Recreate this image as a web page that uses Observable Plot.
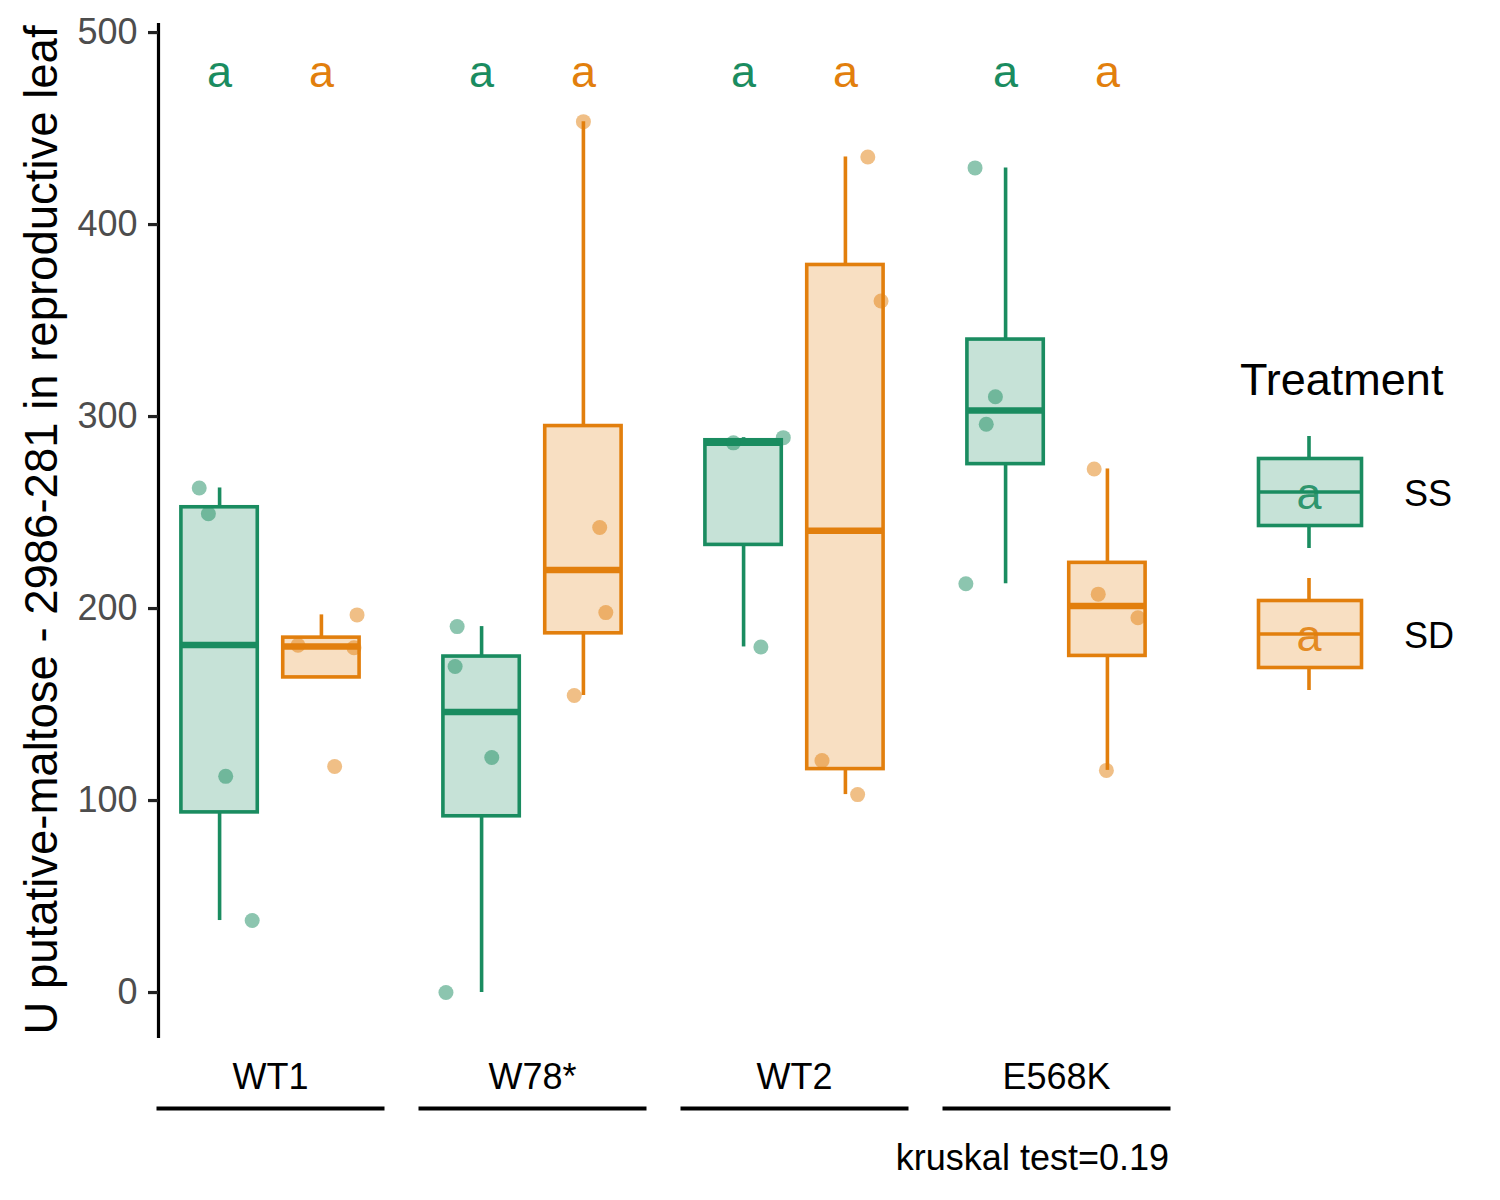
<!DOCTYPE html>
<html><head><meta charset="utf-8">
<script src="https://cdn.jsdelivr.net/npm/d3@7"></script>
<script src="https://cdn.jsdelivr.net/npm/@observablehq/plot@0.6"></script>
<style>body{margin:0;background:#fff;}</style>
</head><body><div id="chart"></div>
<script>
// ---- data ----
const groups = ["WT1", "W78*", "WT2", "E568K"];
const treatments = ["SS", "SD"];
const ssValues = [
  [262.8, 249.4, 112.6, 37.5],
  [190.6, 169.8, 122.4, 0.0],
  [286.3, 289.0, 180.0],
  [429.5, 310.3, 296.0, 212.9]
];
const sdValues = [
  [196.7, 117.7, 180.9, 179.6],
  [453.6, 242.2, 197.9, 154.7],
  [435.2, 360.2, 120.8, 103.1],
  [272.7, 207.5, 195.2, 115.7]
];
// horizontal jitter of each point (fraction of a category step)
const ssJitter = [
  [-0.20, -0.11, 0.06, 0.32],
  [-0.24, -0.26, 0.10, -0.35],
  [-0.10, 0.39, 0.17],
  [-0.30, -0.10, -0.19, -0.39]
];
const sdJitter = [
  [0.35, 0.13, -0.23, 0.32],
  [0.00, 0.16, 0.22, -0.09],
  [0.22, 0.35, -0.23, 0.12],
  [-0.13, -0.09, 0.30, -0.01]
];
const ssLetters = ["a", "a", "a", "a"];
const sdLetters = ["a", "a", "a", "a"];
const letterLevel = 479;
const yTicks = [0, 100, 200, 300, 400, 500];
const yTitle = "U putative-maltose - 2986-281 in reproductive leaf";
const legendTitle = "Treatment";
const caption = "kruskal test=0.19";

const colors = {SS: "#1a8c60", SD: "#e27f0d"};
const font = "'Liberation Sans', Arial, Helvetica, sans-serif";

// ---- build tables ----
const points = [], stats = [], letters = [];
groups.forEach((g, gi) => {
  treatments.forEach((t, ti) => {
    const vals = (t === "SS" ? ssValues : sdValues)[gi];
    const jit = (t === "SS" ? ssJitter : sdJitter)[gi];
    const pos = ti + 1;
    vals.forEach((v, i) => points.push({group: g, treatment: t, pos, value: v, jitter: jit[i]}));
    const s = vals.slice().sort(d3.ascending);
    const q1 = d3.quantileSorted(s, 0.25), med = d3.quantileSorted(s, 0.5), q3 = d3.quantileSorted(s, 0.75);
    const iqr = q3 - q1;
    const hi = d3.max(s.filter(v => v <= q3 + 1.5 * iqr));
    const lo = d3.min(s.filter(v => v >= q1 - 1.5 * iqr));
    stats.push({group: g, treatment: t, pos, q1, med, q3, hi, lo});
    letters.push({group: g, treatment: t, pos, text: (t === "SS" ? ssLetters : sdLetters)[gi], y: letterLevel});
  });
});

const halfW = 0.375;

const svg = Plot.plot({
  width: 1500,
  height: 1200,
  marginLeft: 158,
  marginRight: 331,
  marginTop: 24,
  marginBottom: 164,
  style: {fontFamily: font, background: "#fff", overflow: "visible"},
  fx: {domain: groups, paddingInner: 0.1445, paddingOuter: 0, axis: null, label: null},
  x: {domain: [0.4, 2.6], axis: null},
  y: {domain: [-22.9, 504.2], axis: null},
  color: {domain: treatments, range: [colors.SS, colors.SD]},
  marks: [
    Plot.frame({anchor: "left", facetAnchor: "left", stroke: "#000", strokeWidth: 3.2}),
    Plot.axisY({ticks: yTicks, tickSize: 10, tickPadding: 11, fontSize: 36, stroke: "#222", strokeWidth: 3.2, fill: "#4d4d4d", label: null}),
    Plot.axisFx({anchor: "bottom", tickSize: 0, tickPadding: 27, fontSize: 36, fill: "#000", label: null}),
    Plot.frame({anchor: "bottom", dy: 72, stroke: "#000", strokeWidth: 4}),
    Plot.ruleX(stats.filter(d => d.hi > d.q3), {fx: "group", x: "pos", y1: "q3", y2: "hi", stroke: "treatment", strokeWidth: 3.6}),
    Plot.ruleX(stats.filter(d => d.lo < d.q1), {fx: "group", x: "pos", y1: "q1", y2: "lo", stroke: "treatment", strokeWidth: 3.6}),
    Plot.rect(stats, {fx: "group", x1: d => d.pos - halfW, x2: d => d.pos + halfW, y1: "q1", y2: "q3",
      fill: "treatment", fillOpacity: 0.25, stroke: "treatment", strokeWidth: 3.6}),
    Plot.ruleY(stats, {fx: "group", x1: d => d.pos - halfW, x2: d => d.pos + halfW, y: "med", stroke: "treatment", strokeWidth: 6.5}),
    Plot.dot(points, {fx: "group", x: d => d.pos + d.jitter, y: "value", r: 7.5, fill: "treatment", fillOpacity: 0.5, stroke: null}),
    Plot.text(letters, {fx: "group", x: "pos", y: "y", text: "text", fill: "treatment", fontSize: 45})
  ]
});

const sel = d3.select(svg);
// y-axis title
sel.append("text")
  .attr("transform", "translate(57,530) rotate(-90)")
  .attr("text-anchor", "middle")
  .attr("font-family", font).attr("font-size", 45.5).attr("fill", "#000")
  .text(yTitle);
// caption
sel.append("text")
  .attr("x", 1169).attr("y", 1170)
  .attr("text-anchor", "end")
  .attr("font-family", font).attr("font-size", 36).attr("fill", "#000")
  .text(caption);
// legend
const lg = sel.append("g").attr("font-family", font).attr("text-anchor", "start");
lg.append("text").attr("x", 1240).attr("y", 395).attr("text-anchor", "start").attr("font-size", 45).attr("fill", "#000").text(legendTitle);
const keys = [
  {t: "SS", label: "SS", top: 457, med: 492, bot: 527, wt: 436, wb: 548, letter: ssLetters[0]},
  {t: "SD", label: "SD", top: 599, med: 634, bot: 669, wt: 578, wb: 690, letter: sdLetters[0]}
];
keys.forEach(k => {
  const c = colors[k.t];
  const g = lg.append("g");
  g.append("line").attr("x1", 1309).attr("x2", 1309).attr("y1", k.wt).attr("y2", k.top).attr("stroke", c).attr("stroke-width", 3.6);
  g.append("line").attr("x1", 1309).attr("x2", 1309).attr("y1", k.bot).attr("y2", k.wb).attr("stroke", c).attr("stroke-width", 3.6);
  g.append("rect").attr("x", 1258.5).attr("y", k.top + 1.5).attr("width", 103).attr("height", k.bot - k.top - 3)
    .attr("fill", c).attr("fill-opacity", 0.25).attr("stroke", c).attr("stroke-width", 3.6);
  g.append("line").attr("x1", 1258.5).attr("x2", 1361.5).attr("y1", k.med).attr("y2", k.med).attr("stroke", c).attr("stroke-width", 3.6);
  g.append("text").attr("x", 1309).attr("y", k.med + 17).attr("text-anchor", "middle").attr("font-size", 45).attr("fill", c).attr("fill-opacity", 0.9).text(k.letter);
  g.append("text").attr("x", 1404).attr("y", k.med + 14).attr("text-anchor", "start").attr("font-size", 36).attr("fill", "#000").text(k.label);
});

document.getElementById("chart").appendChild(svg);
</script></body></html>
